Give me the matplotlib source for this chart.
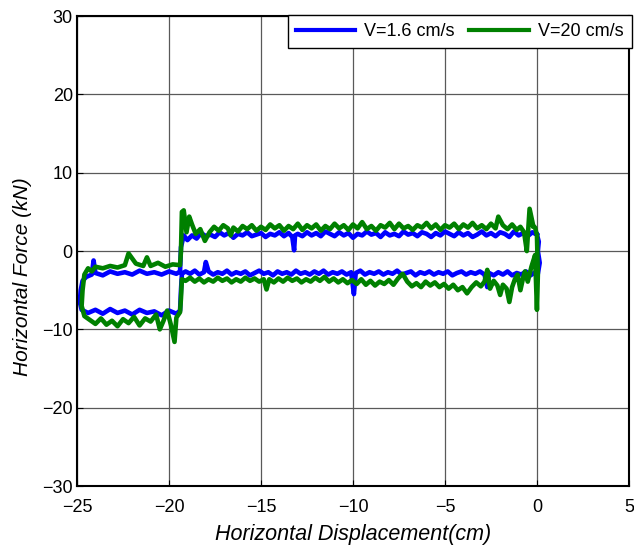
import numpy as np
import matplotlib
matplotlib.use('Agg')
import matplotlib.pyplot as plt

# Значения для V=1.6 cm/s (пары: смещение, сила), по участкам петли
blue_top_right = [(0.0, 2.1), (-0.25, 2.4), (-0.5, 1.9), (-0.75, 2.3), (-1.0, 2.0), (-1.25, 2.5),
                  (-1.5, 1.8), (-1.75, 2.2), (-2.0, 2.4), (-2.25, 1.9), (-2.5, 2.3), (-2.75, 2.0),
                  (-3.0, 2.5), (-3.25, 2.1), (-3.5, 1.8), (-3.75, 2.3), (-4.0, 2.0), (-4.25, 2.4),
                  (-4.5, 1.9), (-4.75, 2.2), (-5.0, 2.5), (-5.25, 2.0), (-5.5, 2.3), (-5.75, 1.8),
                  (-6.0, 2.2), (-6.25, 2.4), (-6.5, 1.9), (-6.75, 2.3), (-7.0, 2.1), (-7.25, 2.5),
                  (-7.5, 1.9), (-7.75, 2.2), (-8.0, 2.0), (-8.25, 2.4), (-8.5, 1.8), (-8.75, 2.3),
                  (-9.0, 2.1), (-9.25, 2.5), (-9.5, 2.0), (-9.75, 2.2), (-10.0, 1.7), (-10.25, 2.3),
                  (-10.5, 2.0), (-10.75, 2.4), (-11.0, 1.9), (-11.25, 2.2), (-11.5, 2.5), (-11.75, 1.9),
                  (-12.0, 2.3), (-12.25, 2.0), (-12.5, 2.4), (-12.75, 1.9), (-13.0, 2.2), (-13.15, 2.0),
                  (-13.2, 0.1), (-13.3, 1.8), (-13.5, 2.3), (-13.75, 1.9), (-14.0, 2.4), (-14.25, 2.0),
                  (-14.5, 2.2), (-14.75, 1.8), (-15.0, 2.3), (-15.25, 2.1), (-15.5, 1.9), (-15.75, 2.4),
                  (-16.0, 2.0), (-16.25, 2.2), (-16.5, 1.7), (-16.75, 2.3), (-17.0, 2.0), (-17.25, 2.4),
                  (-17.5, 1.8), (-17.75, 2.1), (-18.0, 1.9), (-18.25, 2.3), (-18.5, 1.6), (-18.75, 2.0),
                  (-19.0, 1.4), (-19.2, 2.0)]
blue_drop = [(-19.35, 0.5), (-19.4, -2.6)]
blue_top_left = [(-19.6, -2.9), (-20.0, -2.6), (-20.4, -3.0), (-20.8, -2.7), (-21.2, -2.9),
                 (-21.6, -2.5), (-22.0, -3.0), (-22.4, -2.7), (-22.8, -2.9), (-23.2, -2.6),
                 (-23.6, -3.1), (-24.0, -2.8), (-24.1, -1.2), (-24.2, -3.0), (-24.5, -3.3),
                 (-24.7, -3.8)]
blue_left_edge = [(-24.8, -5.0), (-24.85, -6.5), (-24.75, -7.5)]
blue_bottom_left = [(-24.4, -7.9), (-24.0, -7.5), (-23.6, -8.0), (-23.2, -7.4), (-22.8, -7.9),
                    (-22.4, -7.6), (-22.0, -8.1), (-21.6, -7.5), (-21.2, -7.9), (-20.8, -7.7),
                    (-20.4, -8.2), (-20.0, -7.6), (-19.6, -8.0), (-19.4, -7.6)]
blue_rise = [(-19.35, -5.0), (-19.3, -2.9)]
blue_bottom_right = [(-19.1, -2.6), (-18.85, -2.9), (-18.6, -2.5), (-18.35, -3.0), (-18.1, -2.7),
                     (-18.0, -1.4), (-17.85, -2.6), (-17.6, -3.0), (-17.35, -2.7), (-17.1, -2.9),
                     (-16.85, -2.5), (-16.6, -3.0), (-16.35, -2.7), (-16.1, -2.9), (-15.85, -2.6),
                     (-15.6, -3.1), (-15.35, -2.8), (-15.1, -2.5), (-14.85, -2.9), (-14.6, -2.7),
                     (-14.35, -3.1), (-14.1, -2.6), (-13.85, -2.9), (-13.6, -2.7), (-13.35, -3.0),
                     (-13.1, -2.5), (-12.85, -2.9), (-12.6, -2.7), (-12.35, -3.0), (-12.1, -2.6),
                     (-11.85, -2.9), (-11.6, -2.5), (-11.35, -3.0), (-11.1, -2.7), (-10.85, -2.9),
                     (-10.6, -2.6), (-10.35, -3.0), (-10.1, -2.7), (-9.95, -5.5), (-9.85, -2.8),
                     (-9.6, -2.5), (-9.35, -3.0), (-9.1, -2.7), (-8.85, -2.9), (-8.6, -2.6),
                     (-8.35, -3.0), (-8.1, -2.7), (-7.85, -2.9), (-7.6, -2.5), (-7.35, -3.0),
                     (-7.1, -2.8), (-6.85, -2.6), (-6.6, -3.1), (-6.35, -2.7), (-6.1, -2.9),
                     (-5.85, -2.6), (-5.6, -3.0), (-5.35, -2.7), (-5.1, -2.9), (-4.85, -2.6),
                     (-4.6, -3.1), (-4.35, -2.8), (-4.1, -2.6), (-3.85, -3.0), (-3.6, -2.7),
                     (-3.35, -2.9), (-3.1, -2.6), (-2.85, -3.0), (-2.7, -4.6), (-2.6, -2.8),
                     (-2.35, -3.1), (-2.1, -2.7), (-1.85, -3.0), (-1.6, -2.6), (-1.35, -3.1),
                     (-1.1, -2.8), (-0.85, -3.0), (-0.6, -2.6), (-0.35, -3.1), (-0.1, -2.7),
                     (0.05, -2.9)]
blue_right_edge = [(0.15, -1.5), (0.05, 0.0), (0.1, 1.2), (0.0, 2.1)]

# Значения для V=20 cm/s
green_top_right = [(-0.2, 3.2), (-0.4, 5.4), (-0.55, 0.0), (-0.7, 2.4), (-0.9, 3.1), (-1.1, 2.7),
                   (-1.35, 3.4), (-1.6, 2.8), (-1.85, 3.3), (-2.1, 4.4), (-2.25, 2.9), (-2.5, 3.5),
                   (-2.75, 2.8), (-3.0, 3.3), (-3.25, 2.9), (-3.5, 3.6), (-3.75, 3.0), (-4.0, 3.4),
                   (-4.25, 2.8), (-4.5, 3.5), (-4.75, 3.0), (-5.0, 3.3), (-5.25, 2.7), (-5.5, 3.4),
                   (-5.75, 2.9), (-6.0, 3.6), (-6.25, 3.0), (-6.5, 3.3), (-6.75, 2.7), (-7.0, 3.2),
                   (-7.25, 2.9), (-7.5, 3.5), (-7.75, 2.8), (-8.0, 3.6), (-8.25, 3.0), (-8.5, 3.3),
                   (-8.75, 2.6), (-9.0, 3.2), (-9.25, 2.8), (-9.5, 3.7), (-9.75, 2.9), (-10.0, 3.4),
                   (-10.25, 2.7), (-10.5, 3.3), (-10.75, 2.9), (-11.0, 3.5), (-11.25, 2.8), (-11.5, 3.2),
                   (-11.75, 2.6), (-12.0, 3.4), (-12.25, 2.9), (-12.5, 3.3), (-12.75, 2.7), (-13.0, 3.5),
                   (-13.25, 2.8), (-13.5, 3.2), (-13.75, 2.6), (-14.0, 3.3), (-14.25, 2.9), (-14.5, 3.4),
                   (-14.75, 2.7), (-15.0, 3.1), (-15.25, 2.6), (-15.5, 3.3), (-15.75, 2.8), (-16.0, 3.2),
                   (-16.25, 2.5), (-16.5, 3.0), (-16.65, 2.0), (-16.8, 2.9), (-17.05, 3.3), (-17.3, 2.6),
                   (-17.55, 3.1), (-17.8, 2.4), (-18.05, 1.3), (-18.3, 2.8), (-18.55, 2.2), (-18.75, 3.4),
                   (-18.9, 4.4), (-19.05, 2.4), (-19.2, 5.2)]
green_drop = [(-19.3, 5.0), (-19.35, 0.0), (-19.4, -1.8)]
green_top_left = [(-19.8, -1.7), (-20.2, -2.0), (-20.6, -1.5), (-21.0, -1.9), (-21.2, -0.8),
                  (-21.4, -1.9), (-21.8, -1.6), (-22.2, -0.3), (-22.4, -1.8), (-22.8, -2.1),
                  (-23.2, -1.9), (-23.6, -2.2), (-24.0, -2.0), (-24.2, -2.6), (-24.4, -2.2),
                  (-24.6, -3.0)]
green_left_edge = [(-24.7, -5.0), (-24.75, -7.0), (-24.6, -8.3)]
green_bottom_left = [(-24.3, -8.8), (-24.0, -9.3), (-23.7, -8.6), (-23.4, -9.4), (-23.1, -8.9),
                     (-22.8, -9.6), (-22.5, -8.7), (-22.2, -9.2), (-21.9, -8.4), (-21.6, -9.5),
                     (-21.3, -8.6), (-21.0, -9.0), (-20.7, -8.1), (-20.5, -10.0), (-20.3, -8.9),
                     (-20.1, -7.6), (-19.9, -9.4), (-19.7, -11.6), (-19.6, -8.5), (-19.4, -7.8)]
green_rise = [(-19.35, -6.0), (-19.3, -3.6)]
green_bottom_right = [(-19.1, -3.8), (-18.85, -3.4), (-18.6, -3.9), (-18.35, -3.5), (-18.1, -4.0),
                      (-17.85, -3.6), (-17.6, -3.9), (-17.35, -3.4), (-17.1, -3.8), (-16.85, -3.5),
                      (-16.6, -4.0), (-16.35, -3.6), (-16.1, -3.9), (-15.85, -3.4), (-15.6, -3.8),
                      (-15.35, -3.5), (-15.1, -3.9), (-14.85, -3.6), (-14.7, -4.9), (-14.55, -3.6),
                      (-14.3, -4.0), (-14.05, -3.5), (-13.8, -3.9), (-13.55, -3.4), (-13.3, -3.8),
                      (-13.05, -3.5), (-12.8, -4.0), (-12.55, -3.6), (-12.3, -3.9), (-12.05, -3.4),
                      (-11.8, -3.8), (-11.55, -3.3), (-11.3, -3.9), (-11.05, -3.5), (-10.8, -4.0),
                      (-10.55, -3.6), (-10.3, -4.1), (-10.05, -3.7), (-9.8, -4.2), (-9.55, -3.6),
                      (-9.3, -4.3), (-9.05, -3.8), (-8.8, -4.4), (-8.55, -3.9), (-8.3, -4.2),
                      (-8.05, -3.7), (-7.8, -4.3), (-7.55, -3.5), (-7.3, -2.9), (-7.05, -3.9),
                      (-6.8, -4.5), (-6.55, -4.1), (-6.3, -4.6), (-6.05, -3.9), (-5.8, -4.4),
                      (-5.55, -4.0), (-5.3, -4.6), (-5.05, -4.2), (-4.8, -4.8), (-4.55, -4.3),
                      (-4.3, -5.0), (-4.05, -4.6), (-3.8, -5.4), (-3.55, -4.6), (-3.3, -4.0),
                      (-3.05, -4.5), (-2.85, -3.9), (-2.7, -2.4), (-2.55, -4.8), (-2.35, -3.8),
                      (-2.15, -4.4), (-2.0, -5.6), (-1.85, -4.3), (-1.65, -4.8), (-1.5, -6.5),
                      (-1.35, -4.6), (-1.2, -3.6), (-1.05, -3.0), (-0.9, -5.0), (-0.75, -3.4),
                      (-0.65, -2.6), (-0.5, -3.9), (-0.3, -2.0)]
green_right_edge = [(-0.1, -0.5), (0.0, -7.5), (0.05, -3.0), (0.0, 2.0), (-0.1, 3.0), (-0.2, 3.2)]

xticks = [-25, -20, -15, -10, -5, 0, 5]
yticks = [-30, -20, -10, 0, 10, 20, 30]

blue_parts = [blue_top_right, blue_drop, blue_top_left, blue_left_edge,
              blue_bottom_left, blue_rise, blue_bottom_right, blue_right_edge]
green_parts = [green_top_right, green_drop, green_top_left, green_left_edge,
               green_bottom_left, green_rise, green_bottom_right, green_right_edge]

blue = np.array([p for part in blue_parts for p in part])
green = np.array([p for part in green_parts for p in part])

plt.rcParams['font.family'] = ['Liberation Sans', 'DejaVu Sans']

fig = plt.figure(figsize=(6.34, 5.47), dpi=100)
ax = fig.add_axes([0.1215, 0.1115, 0.8705, 0.859])

ax.plot(blue[:, 0], blue[:, 1], color='#0000ff', lw=3.3, label='V=1.6 cm/s')
ax.plot(green[:, 0], green[:, 1], color='#008000', lw=3.3, label='V=20 cm/s')

ax.set_xlim(-25, 5)
ax.set_ylim(-30, 30)
ax.set_xticks(xticks)
ax.set_yticks(yticks)
ax.set_xticklabels(['\u221225', '\u221220', '\u221215', '\u221210', '\u22125', '0', '5'])
ax.set_yticklabels(['\u221230', '\u221220', '\u221210', '0', '10', '20', '30'])
ax.tick_params(direction='in', labelsize=13, length=4, pad=3)
ax.tick_params(axis='x', pad=9)
ax.grid(True, color='0.35', lw=0.9)
ax.set_axisbelow(True)
for s in ax.spines.values():
    s.set_linewidth(1.5)

ax.set_xlabel('Horizontal Displacement(cm)', fontsize=15.5, style='italic')
ax.set_ylabel('Horizontal Force (kN)', fontsize=15, style='italic')
ax.xaxis.set_label_coords(0.5, -0.08)
ax.yaxis.set_label_coords(-0.082, 0.445)

# Легенда в одну строку в правом верхнем углу
leg = ax.legend(loc='upper right', ncol=2, bbox_to_anchor=(1.005, 1.003), borderaxespad=0,
                fontsize=13, fancybox=False, framealpha=1, edgecolor='black',
                handlelength=3.3, handletextpad=0.5, columnspacing=0.8, borderpad=0.45)
leg.get_frame().set_linewidth(1.0)
for line in leg.get_lines():
    line.set_linewidth(3.0)

fig.savefig('out.png', dpi=100)
